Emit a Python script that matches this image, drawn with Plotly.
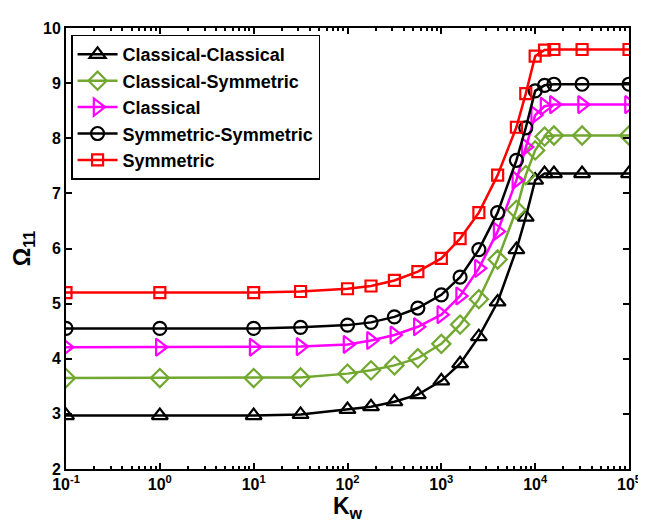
import plotly.graph_objects as go
import numpy as np

# Data
kw = [0.1, 1, 10, 31.6, 100, 178, 316, 562, 1000, 1585, 2512, 3981, 6310, 7943,
      10000, 12589, 15849, 31623, 100000]

classical_classical = [2.97, 2.97, 2.97, 2.99, 3.08, 3.13, 3.22, 3.35, 3.60, 3.91,
                       4.40, 5.03, 5.98, 6.57, 7.24, 7.36, 7.36, 7.36, 7.36]
classical_symmetric = [3.65, 3.65, 3.65, 3.66, 3.73, 3.79, 3.88, 4.01, 4.27, 4.62,
                       5.08, 5.80, 6.70, 7.33, 7.78, 8.03, 8.05, 8.05, 8.05]
classical = [4.21, 4.21, 4.21, 4.22, 4.26, 4.33, 4.43, 4.58, 4.80, 5.14,
             5.64, 6.31, 7.24, 7.84, 8.42, 8.58, 8.61, 8.61, 8.61]
symmetric_symmetric = [4.55, 4.55, 4.55, 4.57, 4.61, 4.66, 4.76, 4.92, 5.16, 5.48,
                       5.98, 6.65, 7.60, 8.19, 8.86, 8.96, 8.98, 8.98, 8.98]
symmetric = [5.20, 5.20, 5.20, 5.22, 5.27, 5.32, 5.42, 5.58, 5.82, 6.18,
             6.65, 7.33, 8.20, 8.81, 9.49, 9.60, 9.61, 9.61, 9.61]

series_names = ["Classical-Classical", "Classical-Symmetric", "Classical",
                "Symmetric-Symmetric", "Symmetric"]
series_values = [classical_classical, classical_symmetric, classical,
                 symmetric_symmetric, symmetric]
colors = ["#000000", "#72a830", "#ff00ff", "#000000", "#ff0000"]
symbols = ["triangle-up-open", "diamond-open", "triangle-right-open",
           "circle-open", "square-open"]
sizes = [14, 14, 15, 13, 11]

x_tickvals = [0.1, 1, 10, 100, 1000, 10000, 100000]
x_ticktext = ["10<sup>-1</sup>", "10<sup>0</sup>", "10<sup>1</sup>", "10<sup>2</sup>",
              "10<sup>3</sup>", "10<sup>4</sup>", "10<sup>5</sup>"]
y_tickvals = [2, 3, 4, 5, 6, 7, 8, 9, 10]

minor_vals = [m * 10.0 ** e for e in range(-1, 5) for m in range(2, 10)]

FONT = "Arial, Liberation Sans, sans-serif"

fig = go.Figure()
for name, vals, c, s, sz in zip(series_names, series_values, colors, symbols, sizes):
    fig.add_trace(go.Scatter(
        x=kw, y=vals, name=name, mode="lines+markers",
        line=dict(color=c, width=2.5),
        marker=dict(symbol=s, size=sz, color=c, line=dict(color=c, width=2.2)),
    ))

fig.update_layout(
    width=646, height=528,
    margin=dict(l=58, r=25, t=17, b=67),
    plot_bgcolor="white", paper_bgcolor="white",
    font=dict(family=FONT, color="black", size=16, weight="bold"),
    showlegend=True,
    legend=dict(
        x=0.009, y=0.985, xanchor="left", yanchor="top",
        bgcolor="white", bordercolor="black", borderwidth=1.5,
        font=dict(family=FONT, size=18, color="black", weight="bold"),
        itemwidth=40, tracegroupgap=0,
    ),
)

fig.update_xaxes(
    type="log", range=[-1, 5],
    tickmode="array", tickvals=x_tickvals, ticktext=x_ticktext,
    ticks="inside", ticklen=6, tickwidth=1.5, tickcolor="black",
    minor=dict(ticks="inside", ticklen=3, tickwidth=1.5, tickcolor="black",
               tickmode="array", tickvals=minor_vals, showgrid=False),
    showline=True, linecolor="black", linewidth=2, mirror="ticks",
    showgrid=False, zeroline=False,
    tickfont=dict(family=FONT, size=16, color="black", weight="bold"),
    title=dict(text="K<sub>w</sub>", font=dict(family=FONT, size=23, color="black", weight="bold"),
               standoff=6),
)
fig.update_yaxes(
    range=[2, 10], tickmode="array", tickvals=y_tickvals,
    ticks="inside", ticklen=6, tickwidth=1.5, tickcolor="black",
    showline=True, linecolor="black", linewidth=2, mirror="ticks",
    showgrid=False, zeroline=False,
    tickfont=dict(family=FONT, size=16, color="black", weight="bold"),
    title=dict(text="Ω<sub>11</sub>", font=dict(family=FONT, size=23, color="black", weight="bold"),
               standoff=6),
)

fig.write_html("out.html")
